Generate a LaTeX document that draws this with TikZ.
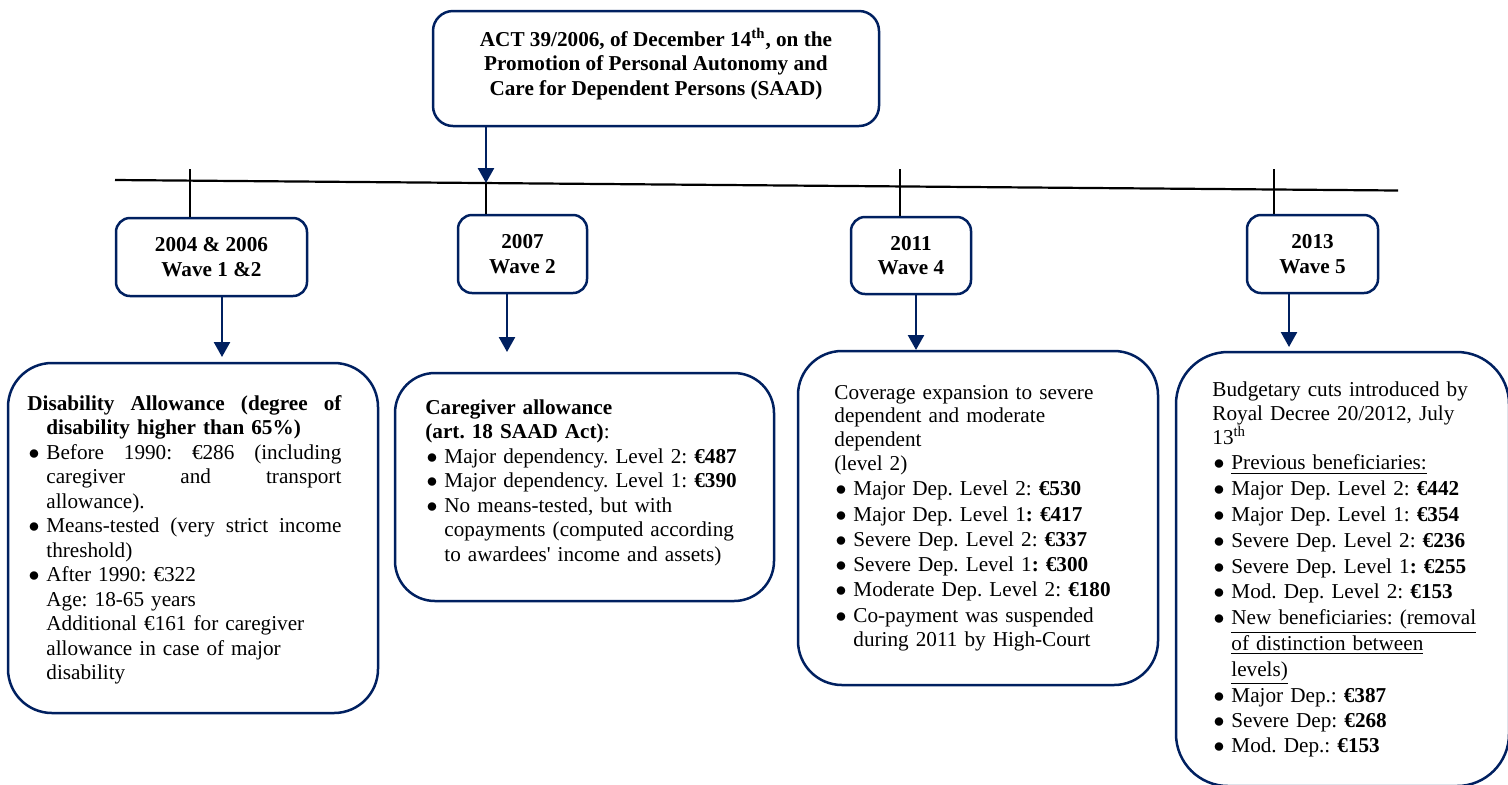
\documentclass[tikz,border=0pt]{standalone}
\usepackage{fontspec}
\setmainfont{Liberation Serif}
\usetikzlibrary{arrows.meta}
\definecolor{navy}{RGB}{0,32,96}
\newcommand{\bodysize}{\fontsize{10.6pt}{12.25pt}\selectfont\frenchspacing}
\newcommand{\bitem}{\par\noindent\makebox[9.5pt][l]{\hspace{0.6pt}$\bullet$}}
\newcommand{\hangline}{\\\hspace*{9.5pt}}

\begin{document}
\begin{tikzpicture}[x=0.5pt,y=-0.5pt,
		panel/.style={draw=navy,line width=1.25pt,fill=white,inner sep=0pt,rounded corners=#1},
		wavebox/.style={panel=7pt,align=center,font=\bodysize\bfseries},
		infotext/.style={anchor=base west,inner sep=0pt,text width=#1,font=\bodysize},
		arr/.style={draw=navy,line width=1.25pt,-{Triangle[length=7.5pt,width=8pt]}},
		tickline/.style={line width=0.6pt}]
	\useasboundingbox (0,0) rectangle (1508,784);

	\coordinate (tl-l) at (115,180);
	\coordinate (tl-r) at (1398,190.5);
	\draw[line width=1.1pt] (tl-l) -- (tl-r);

	\node[panel=10pt,minimum width=223pt,minimum height=57.5pt] (act) at (656,68.5) {};
	\node[font=\bodysize\bfseries,align=center] (act-text) at (656,64) {ACT 39/2006, of December 14\textsuperscript{th}, on the\\Promotion of Personal Autonomy and\\Care for Dependent Persons (SAAD)};

	\node[wavebox,minimum width=95.5pt,minimum height=39pt] (w1) at (211.5,257) {2004 \& 2006\\Wave 1 \&2};
	\node[wavebox,minimum width=64.5pt,minimum height=39pt] (w2) at (522.5,254) {2007\\Wave 2};
	\node[wavebox,minimum width=60pt,minimum height=38.5pt] (w4) at (911,255.5) {2011\\Wave 4};
	\node[wavebox,minimum width=65.5pt,minimum height=39pt] (w5) at (1312.5,254) {2013\\Wave 5};

	\coordinate (k1) at (190,169);
	\coordinate (k2) at (486,183);
	\coordinate (k4) at (900,169);
	\coordinate (k5) at (1274,169);
	\draw[tickline] (k1) -- (k1 |- w1.north);
	\draw[arr] (act.south -| k2) -- (k2);
	\draw[tickline] (k2) -- (k2 |- w2.north);
	\draw[tickline] (k4) -- (k4 |- w4.north);
	\draw[tickline] (k5) -- (k5 |- w5.north);

	\node[panel=22pt,minimum width=185pt,minimum height=175pt] (d1) at (193,538) {};
	\node[panel=20pt,minimum width=189.5pt,minimum height=114pt] (d2) at (584.5,487) {};
	\node[panel=22pt,minimum width=180pt,minimum height=167pt] (d4) at (978,518) {};
	\node[panel=26pt,minimum width=166.5pt,minimum height=217pt] (d5) at (1342.5,569) {};

	\coordinate (e1) at (222,357);
	\coordinate (e2) at (507,352);
	\coordinate (e4) at (916,350);
	\coordinate (e5) at (1289,347);
	\draw[arr] (w1.south -| e1) -- (e1);
	\draw[arr] (w2.south -| e2) -- (e2);
	\draw[arr] (w4.south -| e4) -- (e4);
	\draw[arr] (w5.south -| e5) -- (e5);

	\node[infotext=157pt] (d1-text) at (27,410) {%
		\textbf{\makebox[157pt][s]{Disability\hfill Allowance\hfill (degree\hfill of}}\hangline
		\textbf{disability higher than 65\%)}
		\bitem \makebox[147.5pt][s]{Before\hfill 1990:\hfill €286\hfill (including}\hangline
		\makebox[147.5pt][s]{caregiver\hfill and\hfill transport}\hangline
		allowance).
		\bitem \makebox[147.5pt][s]{Means-tested\hfill (very\hfill strict\hfill income}\hangline
		threshold)
		\bitem After 1990: €322\hangline
		Age: 18-65 years\hangline
		Additional €161 for caregiver\hangline
		allowance in case of major\hangline
		disability};
	\node[infotext=170pt] (d2-text) at (425,414) {\textbf{Caregiver allowance}\\
		\textbf{(art. 18 SAAD Act)}:
		\bitem Major dependency. Level 2: \textbf{€487}
		\bitem Major dependency. Level 1: \textbf{€390}
		\bitem No means-tested, but with\hangline
		copayments (computed according\hangline
		to awardees\textquotesingle\ income and assets)};
	\node[infotext=160pt] (d4-text) at (834,399) {\baselineskip=11.9pt
		Coverage expansion to severe\\
		dependent and moderate\\
		dependent\\
		(level 2)\par
		\baselineskip=12.65pt
		\bitem Major Dep. Level 2: \textbf{€530}
		\bitem Major Dep. Level 1\textbf{: €417}
		\bitem Severe Dep. Level 2: \textbf{€337}
		\bitem Severe Dep. Level 1\textbf{: €300}
		\bitem Moderate Dep. Level 2: \textbf{€180}
		\bitem Co-payment was suspended\hangline
		during 2011 by High-Court};
	\node[infotext=148pt] (d5-text) at (1212,396) {\baselineskip=12pt
		Budgetary cuts introduced by\\
		Royal Decree 20/2012, July\\
		13\textsuperscript{th}\par
		\baselineskip=12.9pt
		\bitem \underline{Previous beneficiaries:}
		\bitem Major Dep. Level 2: \textbf{€442}
		\bitem Major Dep. Level 1: \textbf{€354}
		\bitem Severe Dep. Level 2: \textbf{€236}
		\bitem Severe Dep. Level 1\textbf{: €255}
		\bitem Mod. Dep. Level 2: \textbf{€153}
		\bitem \underline{New beneficiaries: (removal}\hangline
		\underline{of distinction between}\hangline
		\underline{levels)}
		\bitem Major Dep.: \textbf{€387}
		\bitem Severe Dep: \textbf{€268}
		\bitem Mod. Dep.: \textbf{€153}};
\end{tikzpicture}
\end{document}
